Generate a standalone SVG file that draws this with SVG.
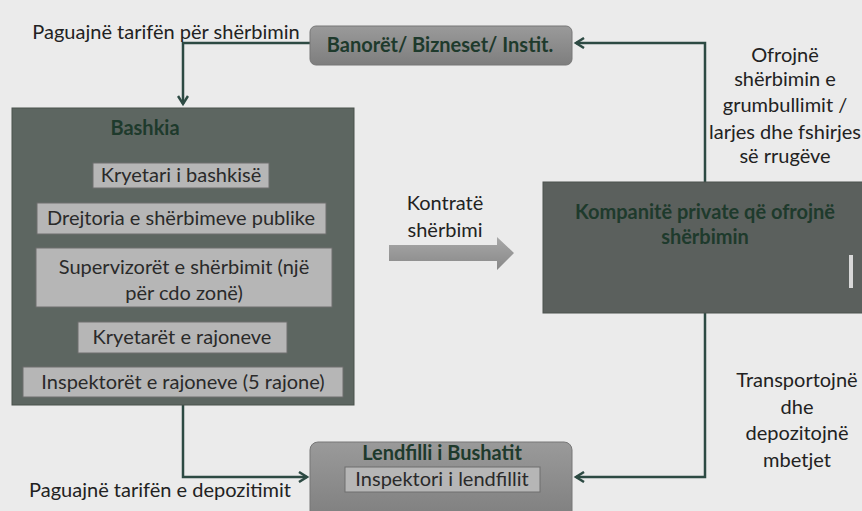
<svg xmlns="http://www.w3.org/2000/svg" width="862" height="511" viewBox="0 0 862 511">
<style>
.lbl{font-family:Lato,"Liberation Sans",sans-serif;font-size:20px;fill:#222;text-anchor:middle}
.ttl{font-family:Lato,"Liberation Sans",sans-serif;font-weight:bold;fill:#1e3a2c;text-anchor:middle;font-size:20px}
.inner{fill:#b6b6b6;stroke:#6e6e6e;stroke-width:1}
.itx{font-family:Lato,"Liberation Sans",sans-serif;font-size:20px;fill:#2a2a2a;text-anchor:middle}
.con{fill:none;stroke:#2d4a43;stroke-width:2.5}
</style>
<defs>
<marker id="ah" markerWidth="12" markerHeight="12" refX="9" refY="6" orient="auto" markerUnits="userSpaceOnUse">
<path d="M1,1 L9,6 L1,11" fill="none" stroke="#2d4a43" stroke-width="2.5"/>
</marker>
<linearGradient id="gbox" x1="0" y1="0" x2="0" y2="1">
<stop offset="0" stop-color="#9a9a9a"/><stop offset="1" stop-color="#7e7e7e"/>
</linearGradient>
<linearGradient id="garr" x1="0" y1="0" x2="0" y2="1">
<stop offset="0" stop-color="#a8a8a8"/><stop offset="1" stop-color="#888"/>
</linearGradient>
</defs>
<rect width="862" height="511" fill="#ebebeb"/>
<g id="connectors">
<polyline class="con" points="310,43 183,43 183,104" marker-end="url(#ah)"/>
<polyline class="con" points="705,182 705,43 576,43" marker-end="url(#ah)"/>
<polyline class="con" points="183,405 183,477 307,477" marker-end="url(#ah)"/>
<polyline class="con" points="705,313 705,477 576,477" marker-end="url(#ah)"/>
<path d="M389,245 L497,245 L497,237 L514,253 L497,270 L497,261 L389,261 Z" fill="url(#garr)"/>
</g>
<g id="label-pay-service"><text class="lbl" x="166" y="39">Paguajnë tarifën për shërbimin</text></g>
<g id="label-offer">
<text class="lbl" x="785" y="62">Ofrojnë</text>
<text class="lbl" x="785" y="86">shërbimin e</text>
<text class="lbl" x="785" y="112">grumbullimit /</text>
<text class="lbl" x="785" y="139">larjes dhe fshirjes</text>
<text class="lbl" x="785" y="163">së rrugëve</text>
</g>
<g id="label-contract">
<text class="lbl" x="445" y="210">Kontratë</text>
<text class="lbl" x="445" y="237">shërbimi</text>
</g>
<g id="label-transport">
<text class="lbl" x="797" y="387">Transportojnë</text>
<text class="lbl" x="797" y="414">dhe</text>
<text class="lbl" x="797" y="440">depozitojnë</text>
<text class="lbl" x="797" y="467">mbetjet</text>
</g>
<g id="label-pay-deposit"><text class="lbl" x="160" y="497">Paguajnë tarifën e depozitimit</text></g>
<g id="banoret">
<rect x="310" y="26" width="262" height="39" rx="6" fill="url(#gbox)" stroke="#777" stroke-width="1"/>
<text class="ttl" x="440" y="52">Banorët/ Bizneset/ Instit.</text>
</g>
<g id="bashkia">
<rect x="12" y="108" width="342" height="297" fill="#5d6661" stroke="#4a524d" stroke-width="1"/>
<text class="ttl" x="145" y="135">Bashkia</text>
<rect class="inner" x="93" y="163" width="176" height="25"/>
<text class="itx" x="181" y="182">Kryetari i bashkisë</text>
<rect class="inner" x="37" y="203" width="289" height="31"/>
<text class="itx" x="181" y="225">Drejtoria e shërbimeve publike</text>
<rect class="inner" x="36" y="248" width="296" height="59"/>
<text class="itx" x="184" y="274">Supervizorët e shërbimit (një</text>
<text class="itx" x="184" y="300">për cdo zonë)</text>
<rect class="inner" x="78" y="322" width="209" height="31"/>
<text class="itx" x="182" y="344">Kryetarët e rajoneve</text>
<rect class="inner" x="23" y="367" width="320" height="30"/>
<text class="itx" x="183" y="389">Inspektorët e rajoneve (5 rajone)</text>
</g>
<g id="kompanite">
<rect x="543" y="182" width="330" height="131" fill="#5b605d" stroke="#4d524f" stroke-width="1"/>
<text class="ttl" x="705" y="219" fill="#2a3530">Kompanitë private që ofrojnë</text>
<text class="ttl" x="705" y="244" fill="#2a3530">shërbimin</text>
<rect x="849" y="255" width="4" height="33" fill="#d8d8d8"/>
</g>
<g id="lendfilli">
<rect x="310" y="442" width="262" height="80" rx="8" fill="url(#gbox)" stroke="#777" stroke-width="1"/>
<text class="ttl" x="442" y="460" font-size="18">Lendfilli i Bushatit</text>
<rect class="inner" x="345" y="467" width="195" height="25"/>
<text class="itx" x="442" y="486">Inspektori i lendfillit</text>
</g>
</svg>
